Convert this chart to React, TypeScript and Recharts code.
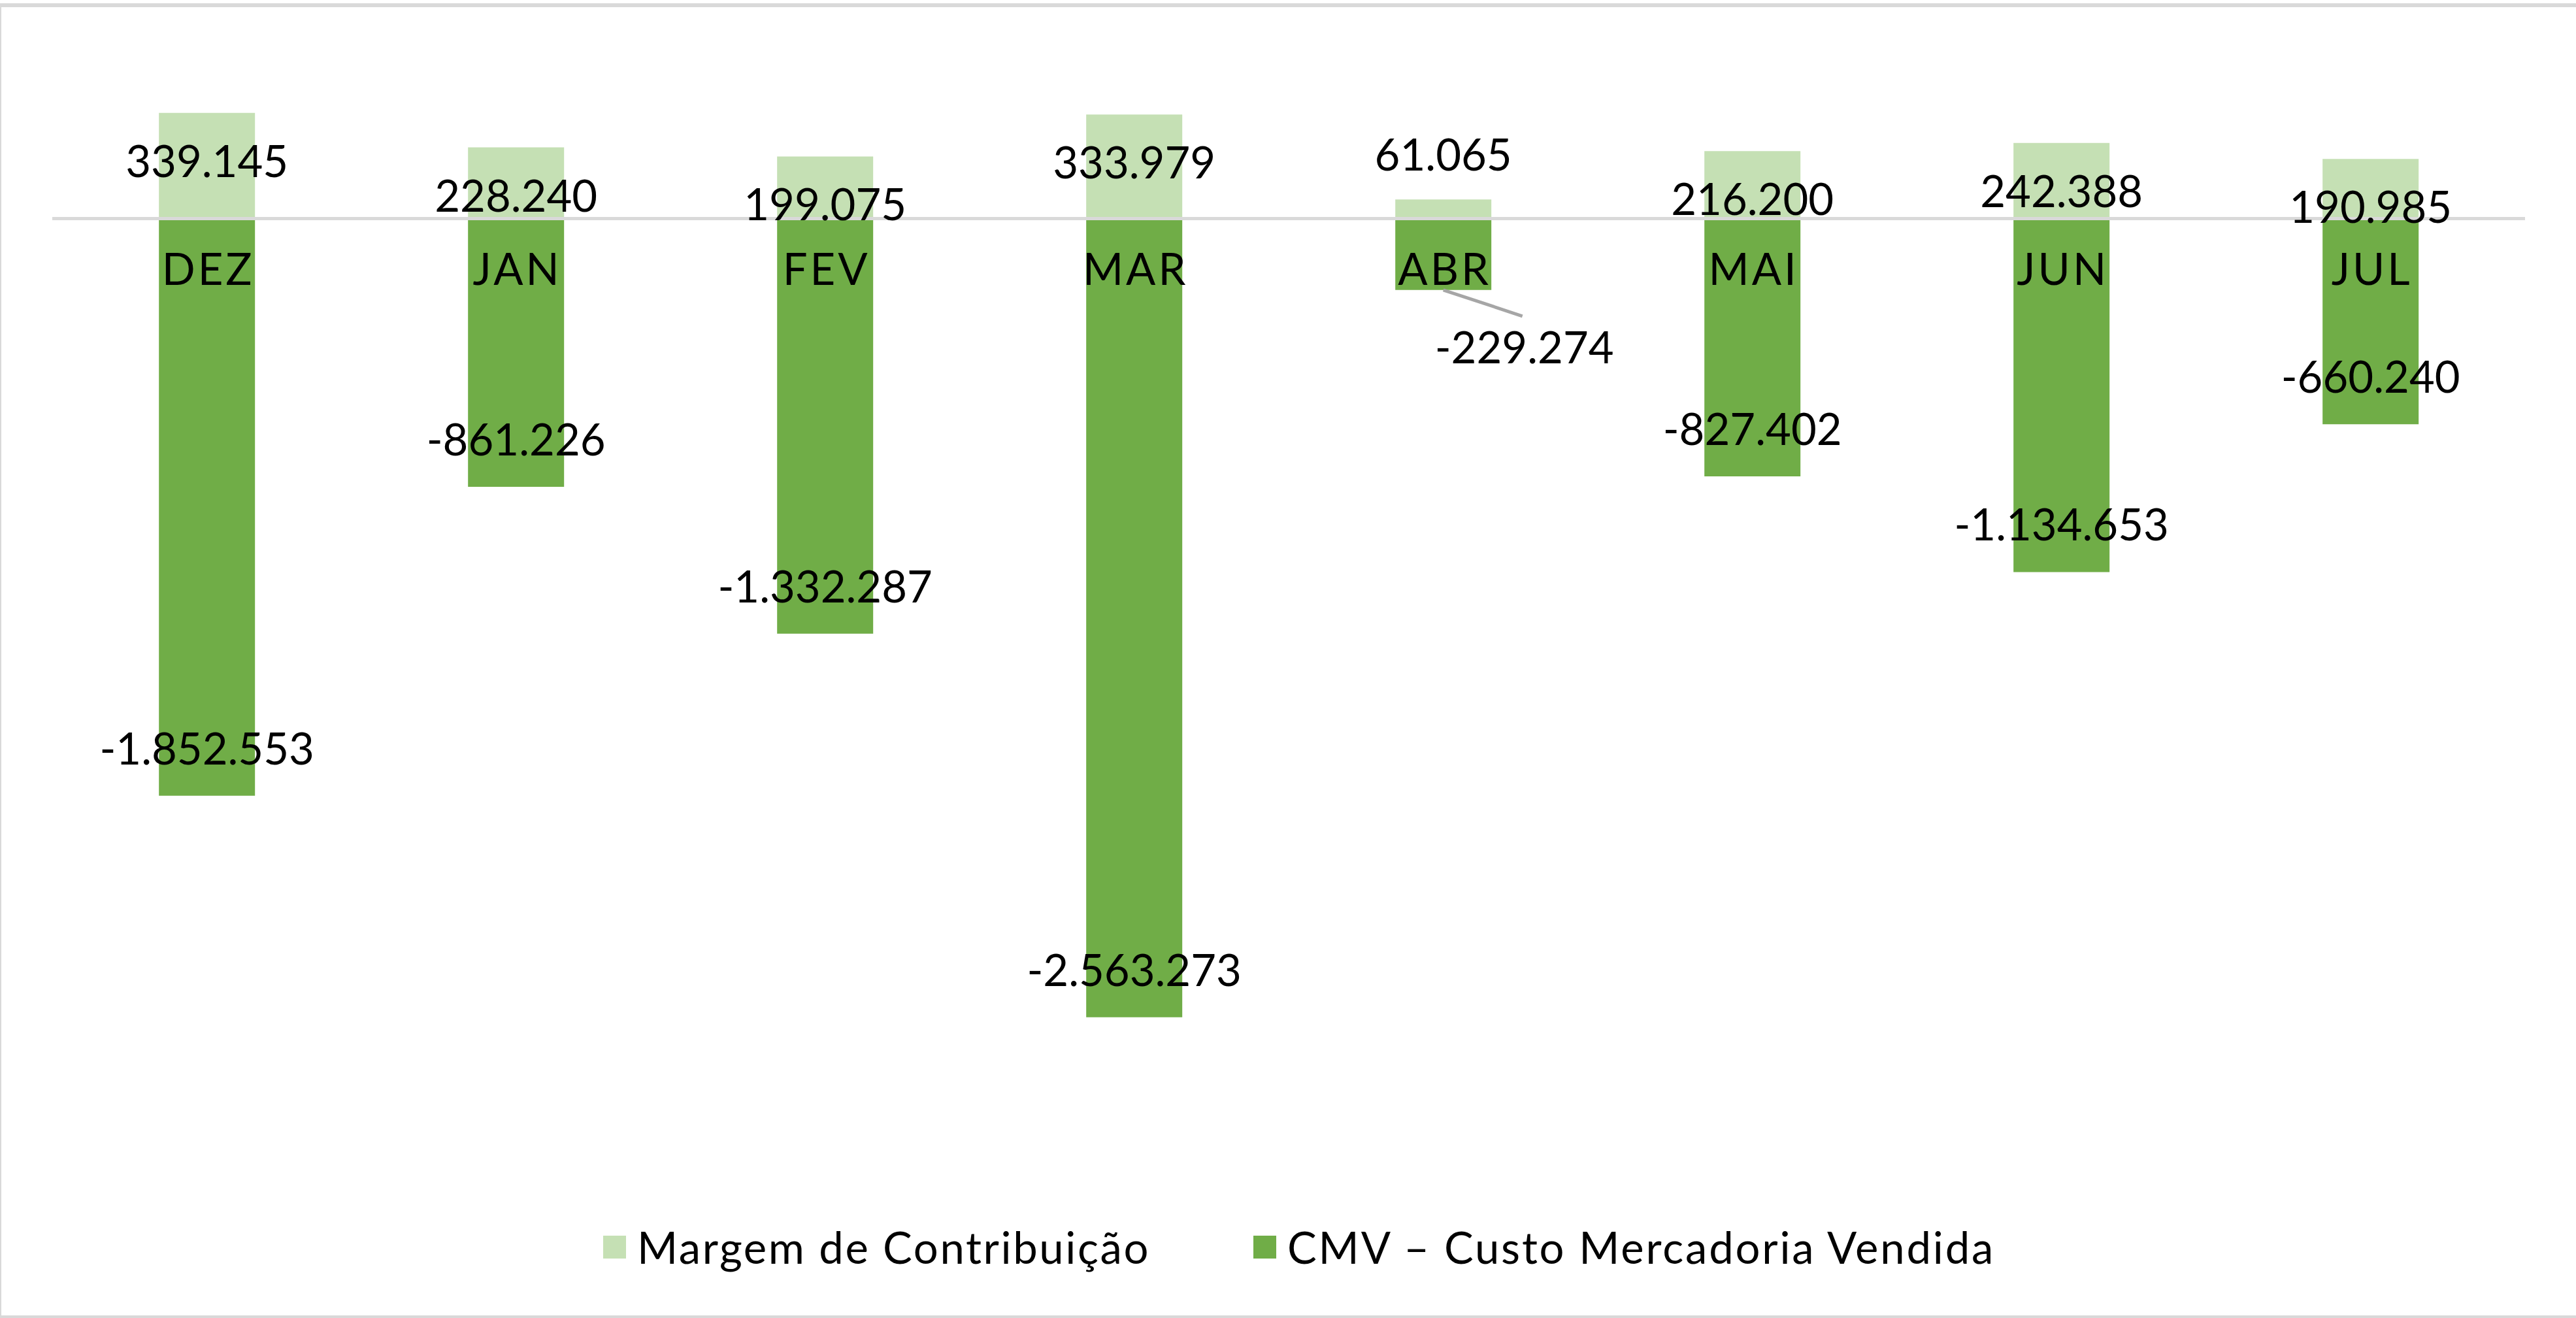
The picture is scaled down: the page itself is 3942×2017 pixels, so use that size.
import React from 'react';
import { BarChart, Bar, XAxis, YAxis, ReferenceLine, Legend, LabelList } from 'recharts';

// meses e valores
const months = ['DEZ', 'JAN', 'FEV', 'MAR', 'ABR', 'MAI', 'JUN', 'JUL'];
const margem = [339145, 228240, 199075, 333979, 61065, 216200, 242388, 190985];
const cmv = [-1852553, -861226, -1332287, -2563273, -229274, -827402, -1134653, -660240];

const seriesNames = ['Margem de Contribuição', 'CMV – Custo Mercadoria Vendida'];

const data = months.map((m, i) => ({ month: m, margem: margem[i], cmv: cmv[i] }));

const FONT = 'Lato, "Open Sans", sans-serif';
const FS = 67;
const LIGHT = '#C5E0B4';
const DARK = '#70AD47';

const fmt = (v: number) => {
  const s = Math.abs(v).toString().replace(/\B(?=(\d{3})+(?!\d))/g, '.');
  return v < 0 ? '-' + s : s;
};

function box(props: any) {
  const vb = props.viewBox || {};
  const x = props.x ?? vb.x;
  const y = props.y ?? vb.y;
  const width = props.width ?? vb.width;
  const height = props.height ?? vb.height;
  return {
    cx: x + width / 2,
    top: Math.min(y, y + height),
    bottom: Math.max(y, y + height),
    h: Math.abs(height),
  };
}

function readValue(props: any, arr: number[]) {
  let v = props.value;
  if (Array.isArray(v)) v = v[1] - v[0];
  if (typeof v !== 'number' && props.index != null) v = arr[props.index];
  return v as number;
}

function MargemLabel(props: any) {
  const { cx, top, h } = box(props);
  const v = readValue(props, margem);
  // barra curta: rótulo acima da barra
  const ty = h < 50 ? top - 44 : top + 98;
  return (
    <text x={cx} y={ty} textAnchor="middle" fontFamily={FONT} fontSize={FS} fill="#000">
      {fmt(v)}
    </text>
  );
}

function CmvLabel(props: any) {
  const { cx, bottom, h } = box(props);
  const v = readValue(props, cmv);
  if (h < 200) {
    // barra curta: rótulo fora com linha de chamada
    return (
      <g>
        <line x1={cx} y1={bottom} x2={cx + 121} y2={bottom + 40} stroke="#A6A6A6" strokeWidth={5} />
        <text x={cx + 124} y={bottom + 112} textAnchor="middle" fontFamily={FONT} fontSize={FS} fill="#000">
          {fmt(v)}
        </text>
      </g>
    );
  }
  return (
    <text x={cx} y={bottom - 48} textAnchor="middle" fontFamily={FONT} fontSize={FS} fill="#000">
      {fmt(v)}
    </text>
  );
}

function MonthLabel(props: any) {
  const { cx, top } = box(props);
  const name = typeof props.value === 'string' ? props.value : months[props.index];
  return (
    <text x={cx + 2} y={top + 102} textAnchor="middle" fontFamily={FONT} fontSize={FS} letterSpacing={4} fill="#000">
      {name}
    </text>
  );
}

function LegendContent() {
  const colors = [LIGHT, DARK];
  const spacing = [2.6, 2.8];
  return (
    <div style={{ display: 'flex', alignItems: 'center', fontFamily: FONT, fontSize: FS, lineHeight: '80px', color: '#000' }}>
      {seriesNames.map((n, i) => (
        <div key={n} style={{ display: 'flex', alignItems: 'center', marginLeft: i === 0 ? 0 : 158 }}>
          <span style={{ display: 'inline-block', width: 35, height: 35, background: colors[i], marginRight: 17 }} />
          <span style={{ whiteSpace: 'nowrap', letterSpacing: spacing[i] }}>{n}</span>
        </div>
      ))}
    </div>
  );
}

export default function App() {
  return (
    <div style={{ position: 'absolute', left: 0, top: 0, width: 3942, height: 2017, overflow: 'hidden', background: '#fff' }}>
      <div
        style={{
          position: 'absolute',
          left: -4,
          top: 5,
          width: 3960,
          height: 2014,
          boxSizing: 'border-box',
          border: '6px solid #D9D9D9',
        }}
      />
      <div style={{ position: 'absolute', left: 0, top: 0 }}>
        <BarChart
          width={3942}
          height={2017}
          data={data}
          stackOffset="sign"
          barCategoryGap="34.5%"
          margin={{ top: 96, right: 78, bottom: 172, left: 80 }}
        >
          <XAxis dataKey="month" hide />
          <YAxis hide domain={[-3000000, 500000]} />
          <Bar dataKey="margem" name={seriesNames[0]} stackId="a" fill={LIGHT} isAnimationActive={false}>
            <LabelList dataKey="margem" content={MargemLabel} />
          </Bar>
          <Bar dataKey="cmv" name={seriesNames[1]} stackId="a" fill={DARK} isAnimationActive={false}>
            <LabelList dataKey="cmv" content={CmvLabel} />
            <LabelList dataKey="month" content={MonthLabel} />
          </Bar>
          <ReferenceLine y={0} stroke="#D9D9D9" strokeWidth={5} />
          <Legend
            content={LegendContent}
            wrapperStyle={{ position: 'absolute', left: 923, top: 1868, width: 'auto', height: 80 }}
          />
        </BarChart>
      </div>
    </div>
  );
}
